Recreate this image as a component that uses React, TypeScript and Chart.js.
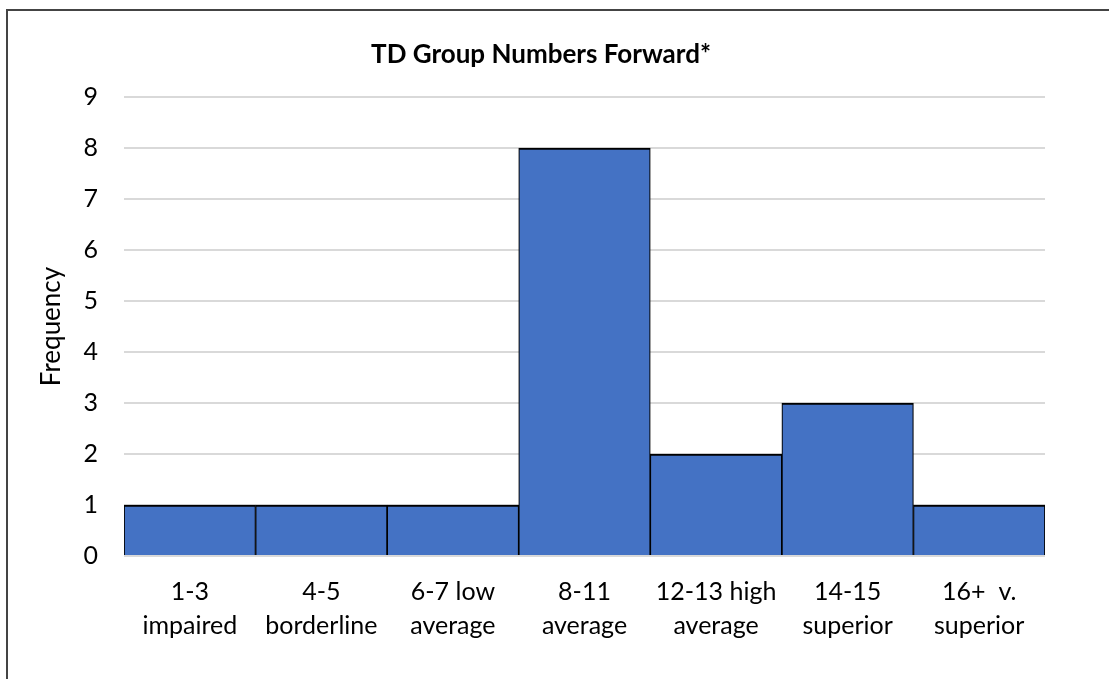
import React, { useEffect, useRef } from "react";
import { Chart, registerables } from "chart.js";

Chart.register(...registerables);

const TITLE = "TD Group Numbers Forward*";
const Y_TITLE = "Frequency";
const categories: string[][] = [
  ["1-3", "impaired"],
  ["4-5", "borderline"],
  ["6-7 low", "average"],
  ["8-11", "average"],
  ["12-13 high", "average"],
  ["14-15", "superior"],
  ["16+  v.", "superior"],
];
const frequencies: number[] = [1, 1, 1, 8, 2, 3, 1];
const yMin = 0;
const yMax = 9;
const yStep = 1;

const FONT = "Lato, 'Open Sans', sans-serif";

export default function App() {
  const ref = useRef<HTMLCanvasElement | null>(null);

  useEffect(() => {
    if (!ref.current) return;
    const titlePlugin = {
      id: "customTitle",
      afterDraw(chart: any) {
        const ctx = chart.ctx;
        ctx.save();
        ctx.font = `bold 26px ${FONT}`;
        ctx.fillStyle = "#000";
        ctx.textAlign = "center";
        ctx.textBaseline = "middle";
        ctx.fillText(TITLE, 541, 55);
        ctx.restore();
      },
    };
    const chart = new Chart(ref.current, {
      type: "bar",
      data: {
        labels: categories,
        datasets: [
          {
            data: frequencies,
            backgroundColor: "#4472C4",
            borderColor: "#000000",
            borderWidth: { top: 2, left: 1.2, right: 1.2, bottom: 0 },
            borderSkipped: false,
            categoryPercentage: 1,
            barPercentage: 1,
          },
        ],
      },
      options: {
        responsive: false,
        animation: false,
        layout: { padding: { top: 97, left: 24, right: 64, bottom: 17 } },
        plugins: {
          legend: { display: false },
          title: { display: false },
          tooltip: { enabled: false },
        },
        scales: {
          x: {
            grid: { display: false, drawTicks: false },
            border: { display: false },
            ticks: {
              color: "#000",
              font: { family: FONT, size: 25, lineHeight: 1.36 },
              padding: 19,
              maxRotation: 0,
              autoSkip: false,
            },
          },
          y: {
            min: yMin,
            max: yMax,
            afterFit: (scale: any) => {
              scale.width = 100;
            },
            grid: { color: "#d9d9d9", lineWidth: 2, drawTicks: false },
            border: { display: false },
            ticks: {
              stepSize: yStep,
              color: "#000",
              font: { family: FONT, size: 25 },
              padding: 26,
            },
            title: {
              display: true,
              text: Y_TITLE,
              color: "#000",
              font: { family: FONT, size: 26 },
              padding: { top: 12, bottom: 0 },
            },
          },
        },
      },
      plugins: [titlePlugin],
    });
    return () => chart.destroy();
  }, []);

  return (
    <div
      style={{
        position: "fixed",
        left: 0,
        top: 0,
        width: 1109,
        height: 679,
        overflow: "hidden",
        background: "#fff",
      }}
    >
      <div
        style={{
          position: "absolute",
          left: 6,
          top: 9,
          width: 2000,
          height: 2000,
          border: "2px solid #444",
        }}
      />
      <canvas
        ref={ref}
        width={1109}
        height={679}
        style={{ position: "absolute", left: 0, top: 0 }}
      />
    </div>
  );
}
